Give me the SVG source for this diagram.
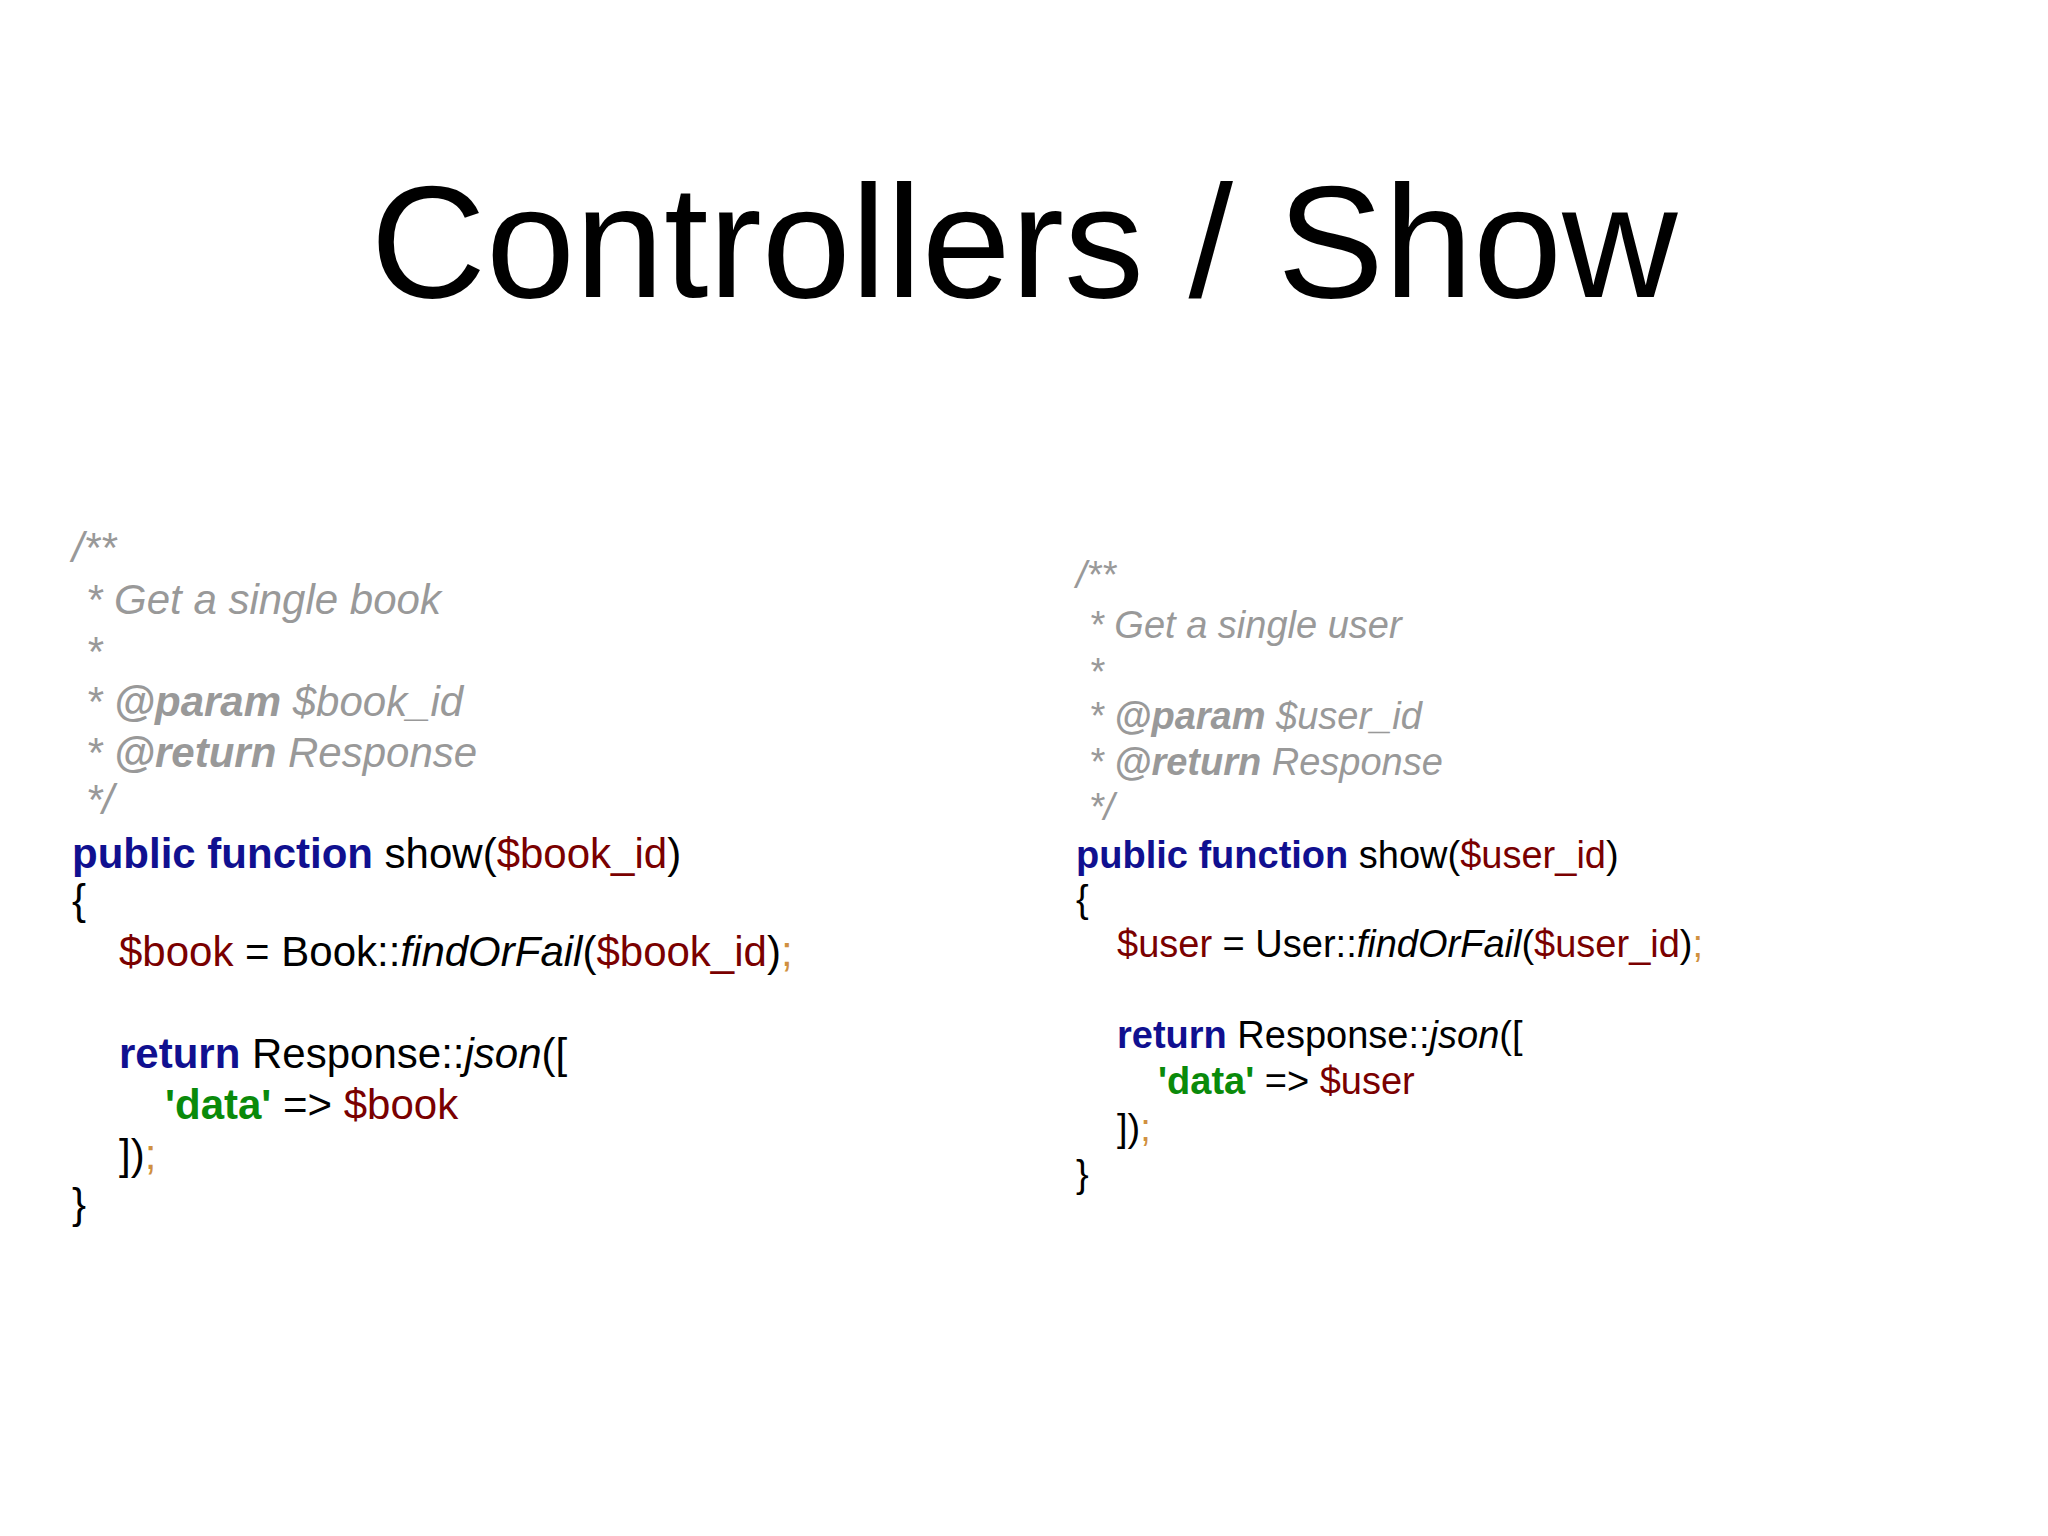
<svg xmlns="http://www.w3.org/2000/svg" width="2048" height="1536" viewBox="0 0 2048 1536">
<style>
text{font-family:"Liberation Sans",Arial,sans-serif;fill:#000}
.t{font-size:160px}
.L{font-size:42px}
.R{font-size:38px}
.c{fill:#999;font-style:italic}
.cb{font-weight:bold}
.k{fill:#101090;font-weight:bold}
.v{fill:#7a0000}
.s{fill:#0a8a0a;font-weight:bold}
.sc{fill:#d09040}
.i{font-style:italic}
</style>
<rect width="2048" height="1536" fill="#fff"/>
<g id="title"><text class="t" x="1024" y="297" text-anchor="middle">Controllers / Show</text></g>
<g id="left-code" class="L">
<text class="L c" x="72" y="562">/**</text>
<text class="L c" x="86" y="614">* Get a single book</text>
<text class="L c" x="86" y="666">*</text>
<text class="L c" x="86" y="716">* <tspan class="cb">@param</tspan> $book_id</text>
<text class="L c" x="86" y="767">* <tspan class="cb">@return</tspan> Response</text>
<text class="L c" x="86" y="814">*/</text>
<text class="L" x="72" y="868"><tspan class="k">public function</tspan> show(<tspan class="v">$book_id</tspan>)</text>
<text class="L" x="72" y="914">{</text>
<text class="L" x="119" y="966"><tspan class="v">$book</tspan> = Book::<tspan class="i">findOrFail</tspan>(<tspan class="v">$book_id</tspan>)<tspan class="sc">;</tspan></text>
<text class="L" x="119" y="1068"><tspan class="k">return</tspan> Response::<tspan class="i">json</tspan>([</text>
<text class="L" x="165" y="1119"><tspan class="s">'data'</tspan> =&gt; <tspan class="v">$book</tspan></text>
<text class="L" x="119" y="1169">])<tspan class="sc">;</tspan></text>
<text class="L" x="72" y="1218">}</text>
</g>
<g id="right-code">
<text class="R c" x="1076" y="588">/**</text>
<text class="R c" x="1089" y="638">* Get a single user</text>
<text class="R c" x="1089" y="685">*</text>
<text class="R c" x="1089" y="729">* <tspan class="cb">@param</tspan> $user_id</text>
<text class="R c" x="1089" y="775">* <tspan class="cb">@return</tspan> Response</text>
<text class="R c" x="1089" y="820">*/</text>
<text class="R" x="1076" y="868"><tspan class="k">public function</tspan> show(<tspan class="v">$user_id</tspan>)</text>
<text class="R" x="1076" y="912">{</text>
<text class="R" x="1117" y="957"><tspan class="v">$user</tspan> = User::<tspan class="i">findOrFail</tspan>(<tspan class="v">$user_id</tspan>)<tspan class="sc">;</tspan></text>
<text class="R" x="1117" y="1048"><tspan class="k">return</tspan> Response::<tspan class="i">json</tspan>([</text>
<text class="R" x="1158" y="1094"><tspan class="s">'data'</tspan> =&gt; <tspan class="v">$user</tspan></text>
<text class="R" x="1117" y="1141">])<tspan class="sc">;</tspan></text>
<text class="R" x="1076" y="1187">}</text>
</g>
<g id="connectors"/>
</svg>
